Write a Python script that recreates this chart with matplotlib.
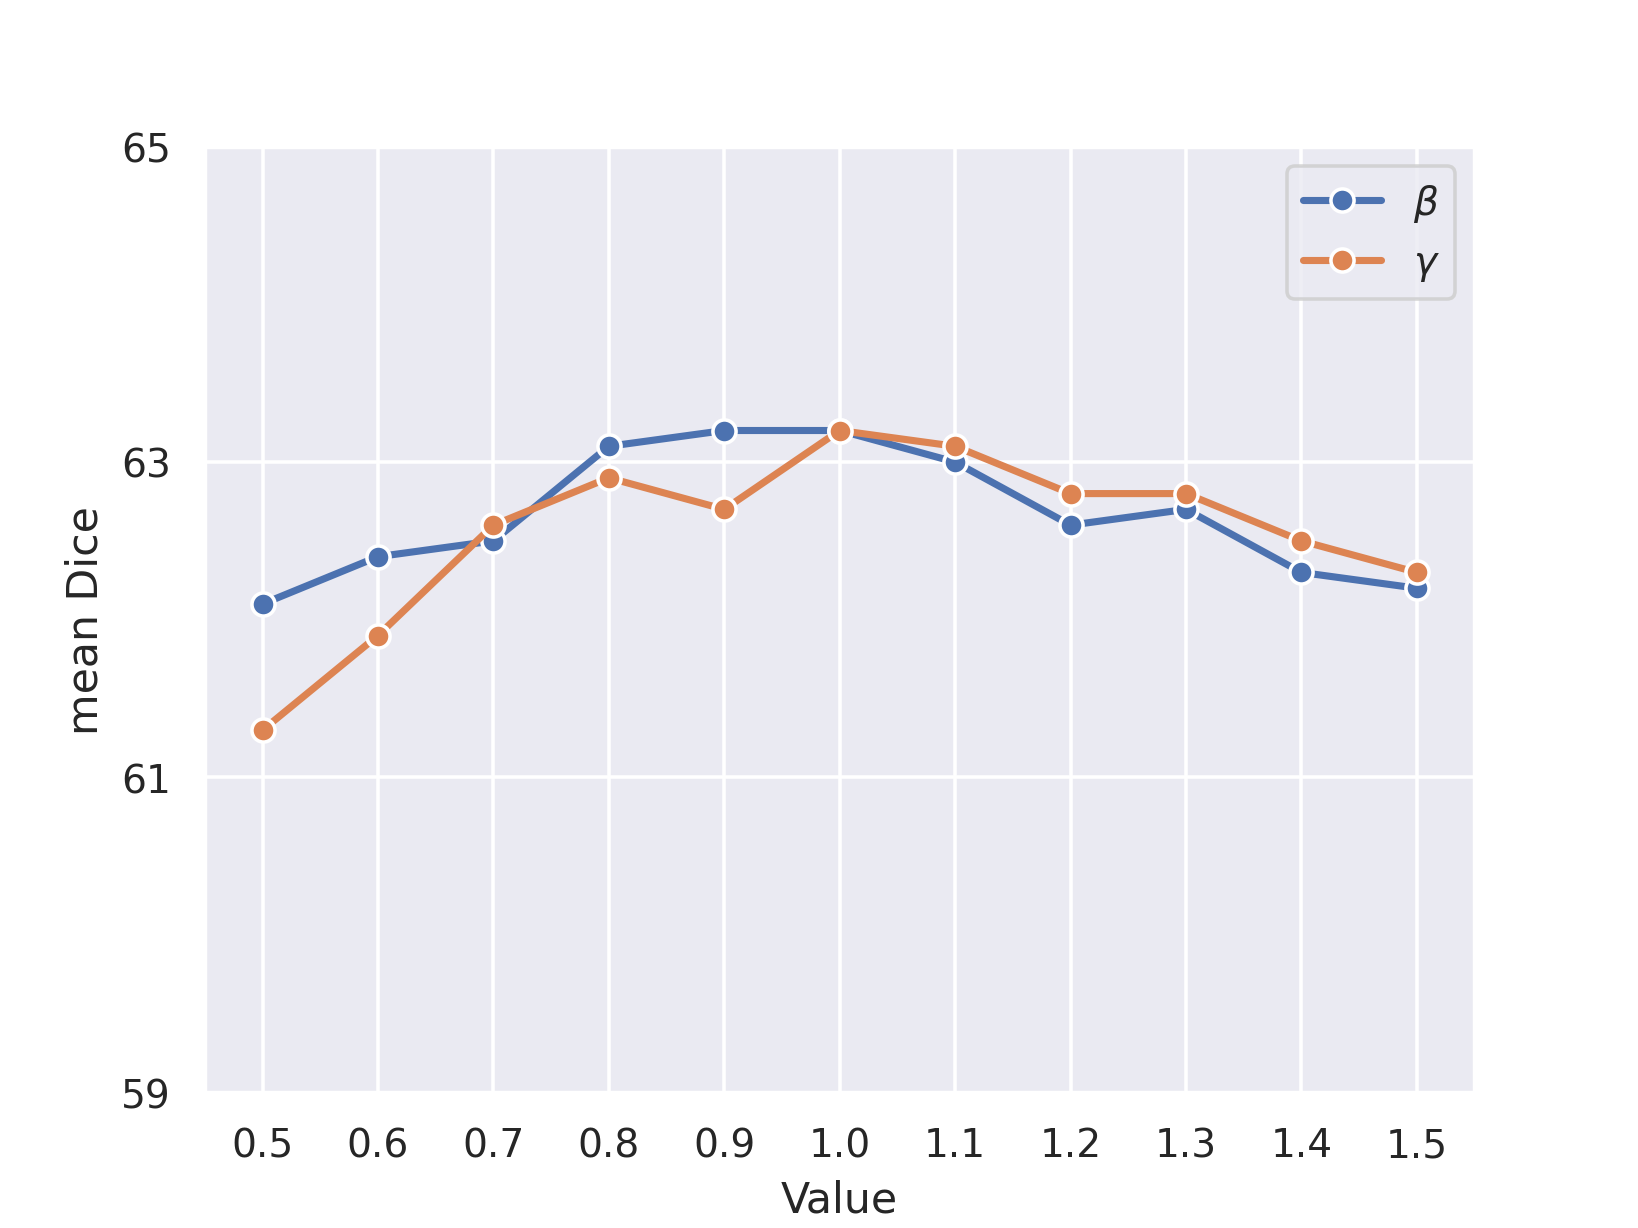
import matplotlib
matplotlib.use("Agg")
import matplotlib.pyplot as plt
import seaborn as sns

values = [0.5, 0.6, 0.7, 0.8, 0.9, 1.0, 1.1, 1.2, 1.3, 1.4, 1.5]
beta = [62.1, 62.4, 62.5, 63.1, 63.2, 63.2, 63.0, 62.6, 62.7, 62.3, 62.2]
gamma = [61.3, 61.9, 62.6, 62.9, 62.7, 63.2, 63.1, 62.8, 62.8, 62.5, 62.3]
xticks = ["0.5", "0.6", "0.7", "0.8", "0.9", "1.0", "1.1", "1.2", "1.3", "1.4", "1.5"]
yticks = [59, 61, 63, 65]

sns.set_theme(style="darkgrid")

fig, ax = plt.subplots(figsize=(6.4, 4.8), dpi=256)

ax.plot(values, beta, marker="o", markeredgecolor="white", lw=2, ms=6.5, label=r"$\beta$")
ax.plot(values, gamma, marker="o", markeredgecolor="white", lw=2, ms=6.5, label=r"$\gamma$")

ax.set_xticks(values)
ax.set_xticklabels(xticks)
ax.set_yticks(yticks)
ax.set_ylim(59, 65)
ax.set_xlabel("Value")
ax.set_ylabel("mean Dice")
ax.legend(loc="upper right")

fig.savefig("out.png")
